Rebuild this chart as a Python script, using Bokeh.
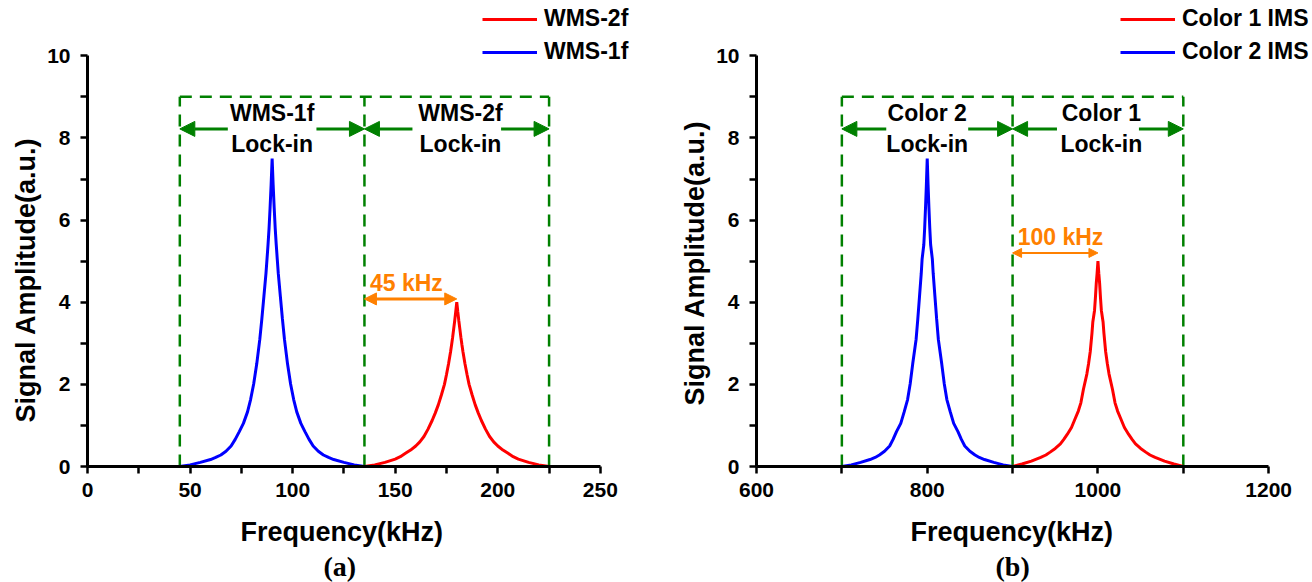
from bokeh.plotting import figure
from bokeh.models import (FixedTicker, Label, Arrow, NormalHead, Legend, LegendItem, Range1d,
                          Title)
from bokeh.layouts import row
from bokeh.embed import file_html
from bokeh.resources import INLINE

# ---------------- data ----------------
# Panel (a)
wms1f_freq = [45, 50, 55, 60, 62.5, 65, 67.5, 70, 72, 74, 76, 78, 79.5, 81, 82.5, 84, 85, 86, 87,
              87.5, 88, 88.5, 89, 89.5, 90,
              90.5, 91, 91.5, 92, 92.5, 93, 94, 95, 96, 97.5, 99, 100.5, 102, 104, 106, 108,
              110, 112.5, 115, 117.5, 120, 125, 130, 135]
wms1f_amp = [0.0, 0.04, 0.10, 0.17, 0.22, 0.28, 0.37, 0.50, 0.66, 0.85, 1.05, 1.33, 1.63, 2.01,
             2.5, 3.1, 3.6, 4.15, 4.7, 5.05, 5.4, 5.8, 6.3, 6.85, 7.5,
             6.85, 6.3, 5.8, 5.4, 5.05, 4.7, 4.15, 3.6, 3.1, 2.5, 2.01, 1.63, 1.33, 1.05, 0.85,
             0.66, 0.50, 0.37, 0.28, 0.22, 0.17, 0.10, 0.04, 0.0]
wms2f_freq = [135, 140, 145, 150, 152.5, 155, 157.5, 160, 162, 164, 166, 168, 169.5, 171, 172.5,
              174, 175, 176, 177, 177.5, 178, 178.5, 179, 179.5, 180,
              180.5, 181, 181.5, 182, 182.5, 183, 184, 185, 186, 187.5, 189, 190.5, 192, 194,
              196, 198, 200, 202.5, 205, 207.5, 210, 215, 220, 225]
wms2f_amp = [0.0, 0.04, 0.10, 0.18, 0.24, 0.32, 0.40, 0.50, 0.60, 0.73, 0.91, 1.12, 1.30, 1.50,
             1.74, 2.0, 2.24, 2.5, 2.8, 2.97, 3.15, 3.35, 3.55, 3.77, 4.0,
             3.77, 3.55, 3.35, 3.15, 2.97, 2.8, 2.5, 2.24, 2.0, 1.74, 1.50, 1.30, 1.12, 0.91,
             0.73, 0.60, 0.50, 0.40, 0.32, 0.24, 0.18, 0.10, 0.04, 0.0]
lockin_bounds_a = [45, 135, 225]
sep_a = [135, 180]
sep_a_text = "45 kHz"

# Panel (b)
color2_freq = [700, 711, 722, 733, 739, 744, 750, 756, 760, 764, 769, 773, 777, 780, 783, 787,
               789, 791, 793, 794, 796, 797, 798, 799, 800,
               801, 802, 803, 804, 806, 807, 809, 811, 813, 817, 820, 823, 827, 831, 836, 840,
               844, 850, 856, 861, 867, 878, 889, 900]
color2_amp = [0.0, 0.04, 0.10, 0.17, 0.22, 0.28, 0.37, 0.50, 0.66, 0.85, 1.05, 1.33, 1.63, 2.01,
              2.5, 3.1, 3.6, 4.15, 4.7, 5.05, 5.4, 5.8, 6.3, 6.85, 7.5,
              6.85, 6.3, 5.8, 5.4, 5.05, 4.7, 4.15, 3.6, 3.1, 2.5, 2.01, 1.63, 1.33, 1.05, 0.85,
              0.66, 0.50, 0.37, 0.28, 0.22, 0.17, 0.10, 0.04, 0.0]
color1_freq = [900, 911, 922, 933, 939, 944, 950, 956, 960, 964, 969, 973, 977, 980, 983, 987,
               989, 991, 993, 994, 996, 997, 998, 999, 1000,
               1001, 1002, 1003, 1004, 1006, 1007, 1009, 1011, 1013, 1017, 1020, 1023, 1027,
               1031, 1036, 1040, 1044, 1050, 1056, 1061, 1067, 1078, 1089, 1100]
color1_amp = [0.0, 0.06, 0.13, 0.22, 0.28, 0.35, 0.44, 0.55, 0.66, 0.78, 0.95, 1.15, 1.35, 1.55,
              1.88, 2.25, 2.5, 2.8, 3.25, 3.52, 3.8, 4.1, 4.45, 4.7, 5.0,
              4.7, 4.45, 4.1, 3.8, 3.52, 3.25, 2.8, 2.5, 2.25, 1.88, 1.55, 1.35, 1.15, 0.95,
              0.78, 0.66, 0.55, 0.44, 0.35, 0.28, 0.22, 0.13, 0.06, 0.0]
lockin_bounds_b = [700, 900, 1100]
sep_b = [900, 1000]
sep_b_text = "100 kHz"

x_title = "Frequency(kHz)"
y_title = "Signal Amplitude(a.u.)"

# ---------------- styling ----------------
FONT = "Liberation Sans"
SERIF = "Liberation Serif"
GREEN = "#008000"
ORANGE = "#FF8000"
RED = "#FF0000"
BLUE = "#0000FF"


def make_panel(xr, xview_max, xticks, xminor, left_series, right_series, bounds, names_top,
               sep, sep_text, sep_y, sep_lw, sep_head, legend_labels, caption,
               border_left, border_right, legend_x, xt_off, cap_off, yt_off, yt_standoff):
    p = figure(width=656, height=582, output_backend="svg", toolbar_location=None,
               title=None,
               x_range=Range1d(xr[0], xview_max), y_range=Range1d(0, 11.2),
               min_border_left=border_left, min_border_right=border_right,
               min_border_top=6, min_border_bottom=116)
    p.outline_line_color = None
    p.xgrid.visible = False
    p.ygrid.visible = False
    p.background_fill_color = "white"
    p.border_fill_color = "white"

    p.xaxis.ticker = FixedTicker(ticks=xticks, minor_ticks=xminor)
    p.yaxis.ticker = FixedTicker(ticks=[0, 2, 4, 6, 8, 10], minor_ticks=[1, 3, 5, 7, 9])
    p.xaxis.bounds = (xr[0], xr[1])
    p.yaxis.bounds = (0, 10)
    for ax in (p.xaxis, p.yaxis):
        ax.axis_line_width = 3
        ax.major_tick_line_width = 2.5
        ax.minor_tick_line_width = 2.5
        ax.major_tick_in = 0
        ax.minor_tick_in = 0
        ax.major_tick_out = 7
        ax.minor_tick_out = 7
        ax.major_label_text_font = FONT
        ax.major_label_text_font_style = "bold"
        ax.major_label_text_font_size = "21px"
        ax.major_label_text_color = "black"
    p.xaxis.major_label_standoff = 9
    p.yaxis.major_label_standoff = 10

    # axis titles and caption as titles (so they can be offset from the frame centre)
    p.add_layout(Title(text=x_title, align="left", offset=xt_off, vertical_align="top",
                       standoff=34, text_font=FONT, text_font_style="bold",
                       text_font_size="27px", text_color="black"), "below")
    p.add_layout(Title(text=caption, align="left", offset=cap_off, vertical_align="top",
                       standoff=-30, text_font=SERIF, text_font_style="bold",
                       text_font_size="28px", text_color="black"), "below")
    p.add_layout(Title(text=y_title, align="left", offset=yt_off, vertical_align="bottom",
                       standoff=yt_standoff, text_font=FONT, text_font_style="bold",
                       text_font_size="27px", text_color="black"), "left")

    # lock-in window (dashed green box)
    b0, b1, b2 = bounds
    p.segment(x0=[b0, b1, b2, b0], y0=[0, 0, 0, 9], x1=[b0, b1, b2, b2], y1=[9, 9, 9, 9],
              line_color=GREEN, line_width=2.5, line_dash="12 8")

    # curves
    lx, ly = left_series
    rx, ry = right_series
    r_blue = p.line(lx, ly, line_color=BLUE, line_width=3)
    r_red = p.line(rx, ry, line_color=RED, line_width=3)

    # green arrows
    ay = 8.22
    for lo, hi in ((b0, b1), (b1, b2)):
        w = hi - lo
        t1 = lo + 0.26 * w
        t2 = hi - 0.26 * w
        p.add_layout(Arrow(end=NormalHead(size=15, fill_color=GREEN, line_color=GREEN),
                           x_start=t1, y_start=ay, x_end=lo, y_end=ay,
                           line_color=GREEN, line_width=3))
        p.add_layout(Arrow(end=NormalHead(size=15, fill_color=GREEN, line_color=GREEN),
                           x_start=t2, y_start=ay, x_end=hi, y_end=ay,
                           line_color=GREEN, line_width=3))

    # window names
    for cx, name in zip(((b0 + b1) / 2, (b1 + b2) / 2 + 0.02 * (b2 - b1)), names_top):
        p.add_layout(Label(x=cx, y=8.6, text=name, text_align="center", text_baseline="middle",
                           text_font=FONT, text_font_style="bold", text_font_size="23px",
                           text_color="black"))
        p.add_layout(Label(x=cx, y=7.85, text="Lock-in", text_align="center", text_baseline="middle",
                           text_font=FONT, text_font_style="bold", text_font_size="23px",
                           text_color="black"))

    # orange separation arrow
    s0, s1 = sep
    p.add_layout(Arrow(start=NormalHead(size=sep_head, fill_color=ORANGE, line_color=ORANGE),
                       end=NormalHead(size=sep_head, fill_color=ORANGE, line_color=ORANGE),
                       x_start=s0, y_start=sep_y, x_end=s1, y_end=sep_y,
                       line_color=ORANGE, line_width=sep_lw))
    p.add_layout(Label(x=s0 + 0.06 * (s1 - s0), y=sep_y + 0.4, text=sep_text, text_align="left",
                       text_baseline="middle", text_font=FONT, text_font_style="bold",
                       text_font_size="23px", text_color=ORANGE))

    legend = Legend(items=[LegendItem(label=legend_labels[0], renderers=[r_red]),
                           LegendItem(label=legend_labels[1], renderers=[r_blue])],
                    location=(legend_x, 401), orientation="vertical",
                    glyph_width=55, glyph_height=24, label_height=24, label_standoff=7,
                    spacing=6, padding=0, margin=0, border_line_color=None,
                    background_fill_alpha=0, label_text_font=FONT,
                    label_text_font_style="bold", label_text_font_size="23px",
                    label_text_color="black")
    p.add_layout(legend)
    return p


pa = make_panel((0, 250), 272, [0, 50, 100, 150, 200, 250], [25, 75, 125, 175, 225],
                (wms1f_freq, wms1f_amp), (wms2f_freq, wms2f_amp), lockin_bounds_a,
                ["WMS-1f", "WMS-2f"], sep_a, sep_a_text, 4.08, 3, 12,
                ["WMS-2f", "WMS-1f"], "(a)", 87, 11, 395,
                153, 236, 44, 8)
pb = make_panel((600, 1200), 1249, [600, 800, 1000, 1200], [700, 900, 1100],
                (color2_freq, color2_amp), (color1_freq, color1_amp), lockin_bounds_b,
                ["Color 2", "Color 1"], sep_b, sep_b_text, 5.2, 2, 9,
                ["Color 1 IMS", "Color 2 IMS"], "(b)", 100, 2, 364,
                154, 239, 61, 8)

layout = row(pa, pb)
open("out.html", "w").write(file_html(layout, INLINE))
